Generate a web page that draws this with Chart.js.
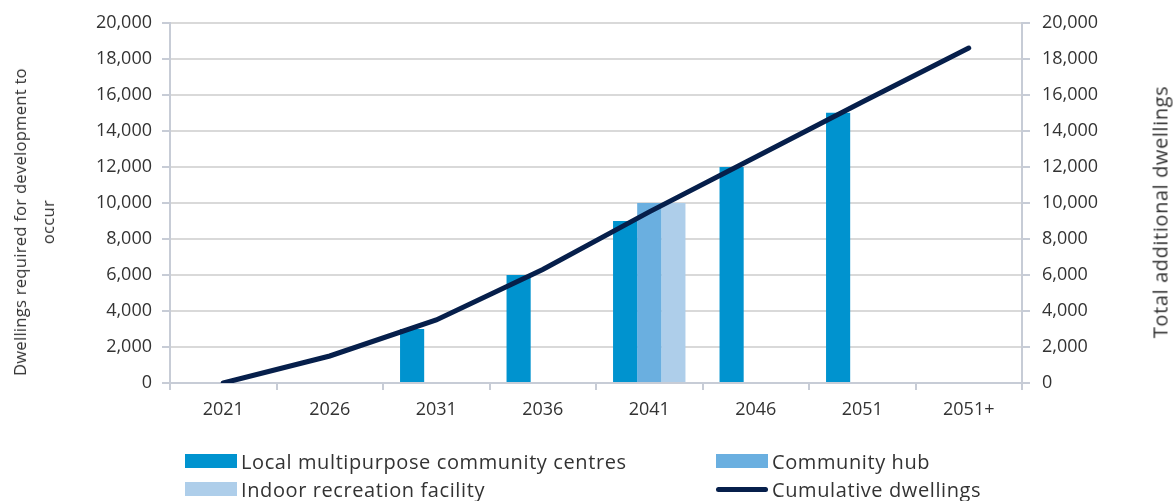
<!DOCTYPE html>
<html>
<head>
<meta charset="utf-8">
<script src="https://cdn.jsdelivr.net/npm/chart.js@4"></script>
<style>
  html, body { margin: 0; padding: 0; background: #fff; }
  #wrap { position: relative; width: 1173px; height: 501px; }
  #legend {
    position: absolute; left: 185px; top: 450px;
    display: grid; grid-template-columns: 531px 420px; row-gap: 6px;
    font-family: 'Open Sans', sans-serif; font-size: 20px; letter-spacing: 0.6px; color: #333;
  }
  .item { display: flex; align-items: center; height: 22px; white-space: nowrap; }
  .swatch { width: 52px; height: 14px; margin-right: 4px; }
  .swatch.line { height: 5px; border-radius: 3px; }
  .axisTitle {
    position: absolute;
    transform: translate(-50%, -50%) rotate(-90deg);
    white-space: nowrap; text-align: center;
    font-family: 'Open Sans', sans-serif; font-size: 20px; letter-spacing: 0.6px; color: #333;
  }
  #leftTitle { left: 34px; top: 222px; font-size: 16.5px; letter-spacing: 0.3px; line-height: 28px; }
  #rightTitle { left: 1160px; top: 212px; }
</style>
</head>
<body>
<div id="wrap">
  <canvas id="chart" width="1173" height="501"></canvas>
  <div id="leftTitle" class="axisTitle">Dwellings required for development to<br>occur</div>
  <div id="rightTitle" class="axisTitle">Total additional dwellings</div>
  <div id="legend"></div>
</div>
<script>
const CATEGORIES = ["2021", "2026", "2031", "2036", "2041", "2046", "2051", "2051+"];
const LOCAL_CENTRES = [null, null, 3000, 6000, 9000, 12000, 15000, null];
const COMMUNITY_HUB = [null, null, null, null, 10000, null, null, null];
const INDOOR_RECREATION = [null, null, null, null, 10000, null, null, null];
const CUMULATIVE = [0, 1500, 3500, 6300, 9500, 12550, 15600, 18600];

const FONT = "'Open Sans', sans-serif";
const TEXT = "#333333";
const GRID = "#D9D9D9";
const AXIS = "#C7CCD6";

Chart.defaults.font.family = FONT;
Chart.defaults.color = TEXT;

const fmt = (v) => Number(v).toLocaleString("en-US");

const chart = new Chart(document.getElementById("chart"), {
    data: {
        labels: CATEGORIES,
        datasets: [
            { type: "bar", label: "Local multipurpose community centres", data: LOCAL_CENTRES,
              backgroundColor: "#0093CF", yAxisID: "y", order: 1 },
            { type: "bar", label: "Community hub", data: COMMUNITY_HUB,
              backgroundColor: "#6AAFE0", yAxisID: "y", order: 1 },
            { type: "bar", label: "Indoor recreation facility", data: INDOOR_RECREATION,
              backgroundColor: "#AECEEA", yAxisID: "y", order: 1 },
            { type: "line", label: "Cumulative dwellings", data: CUMULATIVE,
              borderColor: "#061F4B", backgroundColor: "#061F4B", borderWidth: 5,
              borderCapStyle: "round", pointRadius: 0, tension: 0, fill: false,
              yAxisID: "y1", order: 0 }
        ]
    },
    options: {
        responsive: false,
        animation: false,
        datasets: { bar: { categoryPercentage: 0.68, barPercentage: 1 } },
        layout: { padding: { top: 12, bottom: 78, left: 0, right: 0 } },
        plugins: {
            legend: { display: false }, // leyenda propia en HTML (2 columnas)
            tooltip: { enabled: false }
        },
        scales: {
            x: {
                grid: { offset: true, drawOnChartArea: false, drawTicks: true, tickLength: 7, color: AXIS, lineWidth: 2 },
                border: { color: AXIS, width: 2 },
                ticks: { font: { size: 18 }, padding: 9, color: TEXT },
                afterFit: (s) => { s.height = 40; }
            },
            y: {
                position: "left",
                min: 0, max: 20000,
                ticks: { stepSize: 2000, font: { size: 18 }, padding: 10, callback: (v) => fmt(v), color: TEXT },
                grid: { color: GRID, lineWidth: 2, tickLength: 8, tickColor: AXIS },
                border: { color: AXIS, width: 2 },
                afterFit: (s) => { s.width = 170; }
            },
            y1: {
                position: "right",
                min: 0, max: 20000,
                ticks: { stepSize: 2000, font: { size: 18 }, padding: 12, callback: (v) => fmt(v), color: TEXT },
                grid: { drawOnChartArea: false, tickLength: 8, color: AXIS, lineWidth: 2 },
                border: { color: AXIS, width: 2 },
                afterFit: (s) => { s.width = 151; }
            }
        }
    }
});

// leyenda HTML en dos columnas, armada desde los datasets
const legend = document.getElementById("legend");
chart.data.datasets.forEach((ds) => {
    const item = document.createElement("div");
    item.className = "item";
    const sw = document.createElement("span");
    sw.className = "swatch" + (ds.type === "line" ? " line" : "");
    sw.style.background = ds.type === "line" ? ds.borderColor : ds.backgroundColor;
    const label = document.createElement("span");
    label.textContent = ds.label;
    item.appendChild(sw);
    item.appendChild(label);
    legend.appendChild(item);
});
</script>
</body>
</html>
